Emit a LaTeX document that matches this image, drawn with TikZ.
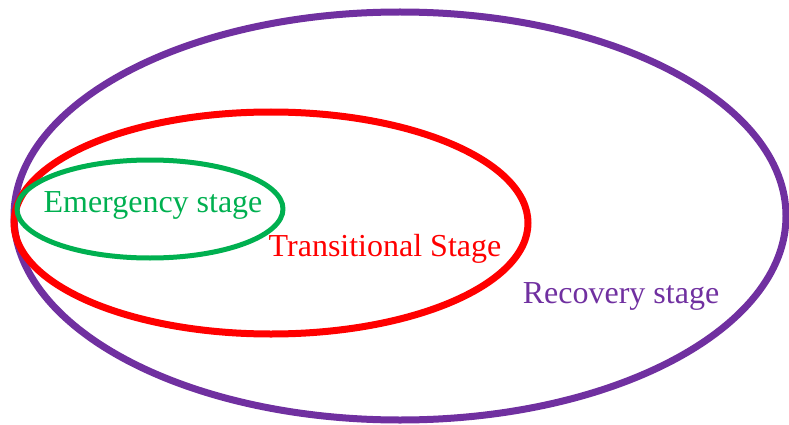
\documentclass[tikz,border=0pt]{standalone}
\usepackage{fontspec}
\setmainfont{Liberation Serif}
\definecolor{recpurple}{HTML}{7030A0}
\definecolor{emgreen}{HTML}{00B050}
\definecolor{trred}{HTML}{FF0000}
\begin{document}
\begin{tikzpicture}[x=1pt,y=-1pt,font=\fontsize{32}{38}\selectfont,line join=round,line cap=round]
			\useasboundingbox (0,0) rectangle (789,425);
			\draw[recpurple,line width=7pt] (400,216) ellipse (386 and 204);
			\draw[trred,line width=7pt] (271,223) ellipse (257 and 111);
			\draw[emgreen,line width=5pt] (150,209) ellipse (133 and 49);
			\node[emgreen,anchor=base] (emergency) at (153,212) {Emergency stage};
			\node[trred,anchor=base] (transitional) at (385,256) {Transitional Stage};
			\node[recpurple,anchor=base] (recovery) at (621,303) {Recovery stage};
		\end{tikzpicture}
\end{document}
